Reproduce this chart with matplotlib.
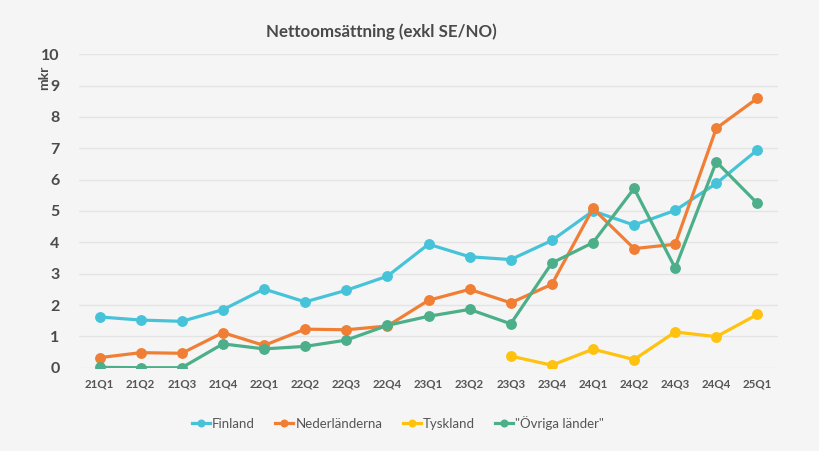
import matplotlib
matplotlib.use("Agg")
import matplotlib.pyplot as plt
import numpy as np

quarters = ["21Q1", "21Q2", "21Q3", "21Q4", "22Q1", "22Q2", "22Q3", "22Q4",
            "23Q1", "23Q2", "23Q3", "23Q4", "24Q1", "24Q2", "24Q3", "24Q4", "25Q1"]
finland = [1.62, 1.52, 1.48, 1.85, 2.51, 2.10, 2.47, 2.92, 3.94, 3.54, 3.45, 4.06,
           5.00, 4.55, 5.02, 5.88, 6.95]
nederlanderna = [0.32, 0.48, 0.46, 1.12, 0.71, 1.23, 1.21, 1.33, 2.15, 2.50, 2.07, 2.66,
                 5.08, 3.80, 3.94, 7.64, 8.60]
tyskland = [None] * 10 + [0.37, 0.08, 0.59, 0.26, 1.14, 0.99, 1.70]
ovriga = [0.01, 0.0, 0.0, 0.76, 0.60, 0.68, 0.88, 1.35, 1.64, 1.86, 1.40, 3.34,
          3.99, 5.72, 3.18, 6.57, 5.24]

series = [
    ("Finland", finland, "#47C3D9"),
    ("Nederländerna", nederlanderna, "#F07F35"),
    ("Tyskland", tyskland, "#FFC20E"),
    ('"Övriga länder"', ovriga, "#4CAF8A"),
]

plt.rcParams['font.family'] = ['Lato', 'DejaVu Sans']
bg = "#F5F5F5"
fig = plt.figure(figsize=(8.19, 4.51), dpi=100, facecolor=bg)
ax = fig.add_axes([79/819, 1 - 367.7/451, (778-79)/819, (367.7-54.3)/451])
ax.set_facecolor(bg)

x = np.arange(len(quarters))
for name, vals, col in series:
    v = np.array([np.nan if a is None else a for a in vals], dtype=float)
    ax.plot(x, v, color=col, lw=2.3, marker='o', ms=6.8, label=name, zorder=3)

ax.set_xlim(-0.5, len(quarters) - 0.5)
ax.set_ylim(0, 10)
ax.set_yticks(range(0, 11))
ax.set_xticks(x)
ax.set_xticklabels(quarters)
ax.grid(axis='y', color='#E4E4E4', lw=1)
ax.set_axisbelow(True)
for s in ax.spines.values():
    s.set_visible(False)
ax.tick_params(axis='both', length=0)
ax.tick_params(axis='y', pad=14, labelsize=11.5, labelcolor='#4A4A4A')
ax.tick_params(axis='x', pad=8, labelsize=8.3, labelcolor='#555555')
for lab in ax.get_yticklabels():
    lab.set_fontweight('bold')
for lab in ax.get_xticklabels():
    lab.set_fontweight('bold')

fig.text(381/819, 1 - 32/451, "Nettoomsättning (exkl SE/NO)", ha='center', va='center',
         fontsize=12.2, fontweight='bold', color='#4A4A4A')
fig.text(44/819, 1 - 78/451, "mkr", rotation=90, ha='center', va='center',
         fontsize=10, fontweight='bold', color='#4A4A4A')

leg = fig.legend(loc='center', bbox_to_anchor=(398/819, 1 - 423/451), ncol=4,
                 frameon=False, fontsize=9.5, handlelength=1.35, handletextpad=0.15,
                 columnspacing=1.55, markerscale=0.7)
for t in leg.get_texts():
    t.set_color('#555555')

fig.savefig("out.png", dpi=100, facecolor=bg)
